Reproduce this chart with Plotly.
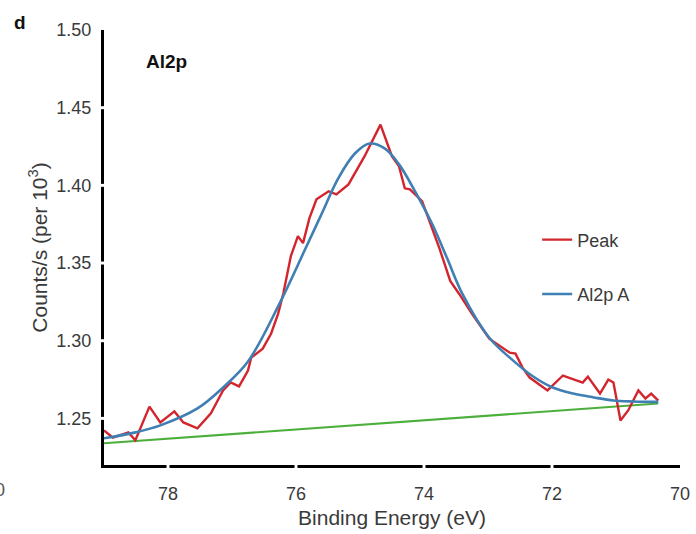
import plotly.graph_objects as go

# ---- data ----
peak_energy = [79.00, 78.86, 78.62, 78.51, 78.29, 78.12, 77.90, 77.76, 77.54, 77.33,
               77.14, 77.02, 76.89, 76.75, 76.70, 76.52, 76.39, 76.28, 76.20, 76.12,
               76.08, 75.97, 75.89, 75.79, 75.68, 75.49, 75.37, 75.18, 74.93, 74.68,
               74.50, 74.39, 74.30, 74.22, 74.03, 73.76, 73.59, 73.45, 73.25, 72.98,
               72.81, 72.66, 72.57, 72.46, 72.35, 72.07, 71.83, 71.52, 71.44, 71.25,
               71.12, 71.04, 70.93, 70.81, 70.65, 70.54, 70.45, 70.34]
peak_counts = [1.2423, 1.2376, 1.2410, 1.2359, 1.2576, 1.2474, 1.2545, 1.2474, 1.2436, 1.2532,
               1.2680, 1.2731, 1.2706, 1.2808, 1.2891, 1.2949, 1.3045, 1.3173, 1.3301, 1.3449,
               1.3545, 1.3673, 1.3628, 1.3789, 1.3910, 1.3962, 1.3942, 1.4006, 1.4186, 1.4391,
               1.4186, 1.4122, 1.3981, 1.3974, 1.3898, 1.3596, 1.3385, 1.3301, 1.3173, 1.3013,
               1.2968, 1.2923, 1.2917, 1.2827, 1.2763, 1.2680, 1.2776, 1.2731, 1.2769, 1.2660,
               1.2750, 1.2731, 1.2487, 1.2551, 1.2680, 1.2628, 1.2660, 1.2615]

fit_energy = [79.00, 78.51, 78.12, 77.54, 77.14, 76.75, 76.26, 75.87, 75.60, 75.34,
              75.08, 74.85, 74.61, 74.39, 74.14, 73.87, 73.64, 73.40, 72.98, 72.66,
              72.30, 71.99, 71.67, 71.35, 71.04, 70.73, 70.34]
fit_counts = [1.2372, 1.2410, 1.2455, 1.2564, 1.2699, 1.2866, 1.3237, 1.3577, 1.3816, 1.4045,
              1.4205, 1.4269, 1.4237, 1.4135, 1.3962, 1.3750, 1.3532, 1.3301, 1.3019, 1.2891,
              1.2771, 1.2699, 1.2660, 1.2635, 1.2615, 1.2609, 1.2606]

baseline_energy = [79.00, 70.34]
baseline_counts = [1.2340, 1.2596]

x_ticks = [78, 76, 74, 72, 70]
y_ticks = [1.25, 1.30, 1.35, 1.40, 1.45, 1.50]
x_range = [79, 70]
y_range = [1.22, 1.50]

FONT = "Liberation Sans, Arial, sans-serif"
TXT = "#3a3a3a"

fig = go.Figure()
fig.add_trace(go.Scatter(x=baseline_energy, y=baseline_counts, mode="lines",
                         line=dict(color="#4caf3c", width=2.2), showlegend=False,
                         hoverinfo="skip"))
fig.add_trace(go.Scatter(x=peak_energy, y=peak_counts, mode="lines", name="Peak",
                         legendgroup="a",
                         line=dict(color="#d3252d", width=2.4)))
fig.add_trace(go.Scatter(x=fit_energy, y=fit_counts, mode="lines", name="Al2p A",
                         legendgroup="b",
                         line=dict(color="#3f7fb3", width=2.6, shape="spline", smoothing=1.0)))

# white notches in the axis lines at tick positions (as in the reference)
shapes = []
for t in x_ticks[:-1]:
    shapes.append(dict(type="line", xref="x", yref="paper", x0=t, x1=t,
                       ysizemode="pixel", yanchor=0, y0=-5, y1=1,
                       line=dict(color="white", width=3), layer="above"))
for t in y_ticks[:-1]:
    shapes.append(dict(type="line", xref="paper", yref="y", y0=t, y1=t,
                       xsizemode="pixel", xanchor=0, x0=-5, x1=1,
                       line=dict(color="white", width=3), layer="above"))

fig.update_layout(
    width=696, height=534,
    margin=dict(l=104, r=16, t=30, b=69, autoexpand=False),
    paper_bgcolor="white", plot_bgcolor="white",
    font=dict(family=FONT, size=18, color=TXT),
    shapes=shapes,
    showlegend=True,
    legend=dict(x=0.752, y=0.56, xanchor="left", yanchor="top",
                traceorder="grouped", tracegroupgap=28,
                font=dict(family=FONT, size=18, color=TXT),
                bgcolor="rgba(0,0,0,0)"),
    annotations=[
        dict(text="<b>d</b>", xref="paper", yref="paper", x=-0.146, y=1.017,
             xanchor="center", yanchor="middle",
             showarrow=False, font=dict(family=FONT, size=19, color="#111111")),
        dict(text="<b>Al2p</b>", xref="paper", yref="paper", x=0.109, y=0.928,
             xanchor="center", yanchor="middle",
             showarrow=False, font=dict(family=FONT, size=19, color="#111111")),
        dict(text="0", xref="paper", yref="paper", x=-0.181, y=-0.057,
             xanchor="center", yanchor="middle", showarrow=False,
             font=dict(family=FONT, size=18, color="#555555")),
    ],
)

fig.update_xaxes(range=x_range, tickvals=x_ticks, ticktext=[str(v) for v in x_ticks],
                 showgrid=False, zeroline=False, showline=True, linecolor="black",
                 linewidth=3, ticks="", ticklabelstandoff=10,
                 tickfont=dict(size=18, color=TXT),
                 title=dict(text="Binding Energy (eV)", standoff=8,
                            font=dict(size=21, color=TXT)))
fig.update_yaxes(range=y_range, tickvals=y_ticks, ticktext=[f"{v:.2f}" for v in y_ticks],
                 showgrid=False, zeroline=False, showline=True, linecolor="black",
                 linewidth=3, ticks="", ticklabelstandoff=6,
                 tickfont=dict(size=18, color=TXT),
                 title=dict(text="Counts/s (per 10<sup>3</sup>)", standoff=4,
                            font=dict(size=21, color=TXT)))

fig.write_html("out.html", config={"displayModeBar": False},
               post_script="document.body.style.margin='0';")
